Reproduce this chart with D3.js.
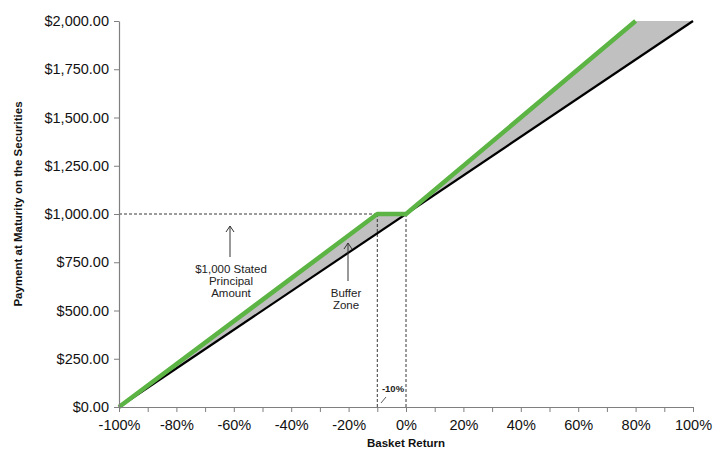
<!DOCTYPE html>
<html>
<head>
<meta charset="utf-8">
<script src="https://cdn.jsdelivr.net/npm/d3@7"></script>
<style>
  body { margin: 0; background: #fff; }
  svg { font-family: "Liberation Sans", Arial, sans-serif; }
</style>
</head>
<body>
<svg id="chart" width="720" height="460"></svg>
<script>
const width = 720;
const height = 460;
const margin = {top: 21, right: 27, bottom: 53, left: 119};

// basket return vs payment, direct investment
const basketReturns = [-1, 1];
const basketPayments = [0, 2000];

// securities payoff (buffer -10%, upside 1.25x)
const secReturns = [-1, -0.1, 0, 0.8];
const secPayments = [0, 1000, 1000, 2000];

// shaded area between the two
const fillReturns = [-1, -0.1, 0, 0.8, 1];
const fillUpper = [0, 1000, 1000, 2000, 2000];
const fillLower = [0, 900, 1000, 1800, 2000];

const xTicks = d3.range(-1, 1.0001, 0.1);
const xLabels = [-1, -0.8, -0.6, -0.4, -0.2, 0, 0.2, 0.4, 0.6, 0.8, 1];
const yTicks = [0, 250, 500, 750, 1000, 1250, 1500, 1750, 2000];

const principal = 1000;
const bufferLevel = -0.1;

const svg = d3.select("#chart");

const x = d3.scaleLinear()
    .domain([-1, 1])
    .range([margin.left, width - margin.right]);

const y = d3.scaleLinear()
    .domain([0, 2000])
    .range([height - margin.bottom, margin.top]);

// gray fill
const fillData = fillReturns.map((r, i) => ({r: r, hi: fillUpper[i], lo: fillLower[i]}));
svg.append("path")
    .datum(fillData)
    .attr("fill", "#c0c0c0")
    .attr("d", d3.area()
        .x(d => x(d.r))
        .y0(d => y(d.lo))
        .y1(d => y(d.hi)));

// dashed reference lines
const dash = svg.append("g")
    .attr("stroke", "#222")
    .attr("stroke-width", 0.9)
    .attr("stroke-dasharray", "3,2");

dash.append("line")
    .attr("x1", x(-1)).attr("x2", x(bufferLevel))
    .attr("y1", y(principal)).attr("y2", y(principal));
dash.append("line")
    .attr("x1", x(bufferLevel)).attr("x2", x(bufferLevel))
    .attr("y1", y(principal)).attr("y2", y(0));
dash.append("line")
    .attr("x1", x(0)).attr("x2", x(0))
    .attr("y1", y(principal)).attr("y2", y(0));

// black line
const line = d3.line().x(d => x(d[0])).y(d => y(d[1]));
svg.append("path")
    .datum(d3.zip(basketReturns, basketPayments))
    .attr("fill", "none")
    .attr("stroke", "#000")
    .attr("stroke-width", 2.2)
    .attr("d", line);

// green line
svg.append("path")
    .datum(d3.zip(secReturns, secPayments))
    .attr("fill", "none")
    .attr("stroke", "#5bb443")
    .attr("stroke-width", 4.5)
    .attr("stroke-linejoin", "round")
    .attr("d", line);

// axes
const xAxis = svg.append("g")
    .attr("transform", `translate(0,${y(0)})`)
    .call(d3.axisBottom(x)
        .tickValues(xTicks)
        .tickSize(5)
        .tickSizeOuter(0)
        .tickFormat(d => xLabels.some(v => Math.abs(v - d) < 1e-6) ? d3.format(".0%")(d).replace("−", "-") : ""));

const yAxis = svg.append("g")
    .attr("transform", `translate(${x(-1)},0)`)
    .call(d3.axisLeft(y)
        .tickValues(yTicks)
        .tickSize(5)
        .tickSizeOuter(0)
        .tickFormat(d => "$" + d3.format(",.2f")(d)));

[xAxis, yAxis].forEach(g => {
    g.select(".domain").attr("stroke", "#7f7f7f").attr("stroke-width", 1.2);
    g.selectAll(".tick line").attr("stroke", "#7f7f7f");
    g.selectAll(".tick text")
        .attr("fill", "#111")
        .style("font-size", "14.5px")
        .style("font-family", "'Liberation Sans', Arial, sans-serif");
});
xAxis.selectAll(".tick text").attr("dy", "1.05em");
yAxis.selectAll(".tick text").attr("x", -10);

// axis titles
svg.append("text")
    .attr("x", (x(-1) + x(1)) / 2)
    .attr("y", 447)
    .attr("text-anchor", "middle")
    .attr("font-weight", "bold")
    .attr("font-size", 11.5)
    .attr("fill", "#111")
    .text("Basket Return");

svg.append("text")
    .attr("transform", "translate(22,204) rotate(-90)")
    .attr("text-anchor", "middle")
    .attr("font-weight", "bold")
    .attr("font-size", 11.5)
    .attr("fill", "#111")
    .text("Payment at Maturity on the Securities");

// annotations
function arrow(x0, yTip, yEnd) {
    const g = svg.append("g").attr("stroke", "#333").attr("stroke-width", 1).attr("fill", "none");
    g.append("line").attr("x1", x0).attr("x2", x0).attr("y1", yTip).attr("y2", yEnd);
    g.append("path").attr("d", `M${x0 - 4},${yTip + 6}L${x0},${yTip}L${x0 + 4},${yTip + 6}`);
}

function label(cx, lines, y0) {
    const t = svg.append("text")
        .attr("text-anchor", "middle")
        .attr("font-size", 11.5)
        .attr("fill", "#222");
    lines.forEach((s, i) => {
        t.append("tspan").attr("x", cx).attr("y", y0 + i * 12).text(s);
    });
}

arrow(230, 226, 257);
label(231, ["$1,000 Stated", "Principal", "Amount"], 273);

arrow(348, 243, 281);
label(346, ["Buffer", "Zone"], 297);

svg.append("text")
    .attr("x", 393)
    .attr("y", 392)
    .attr("text-anchor", "middle")
    .attr("font-size", 9.5)
    .attr("font-weight", "bold")
    .attr("fill", "#222")
    .text("-10%");

svg.append("line")
    .attr("x1", 381).attr("y1", 403)
    .attr("x2", 386).attr("y2", 397)
    .attr("stroke", "#333")
    .attr("stroke-width", 0.8);
</script>
</body>
</html>
